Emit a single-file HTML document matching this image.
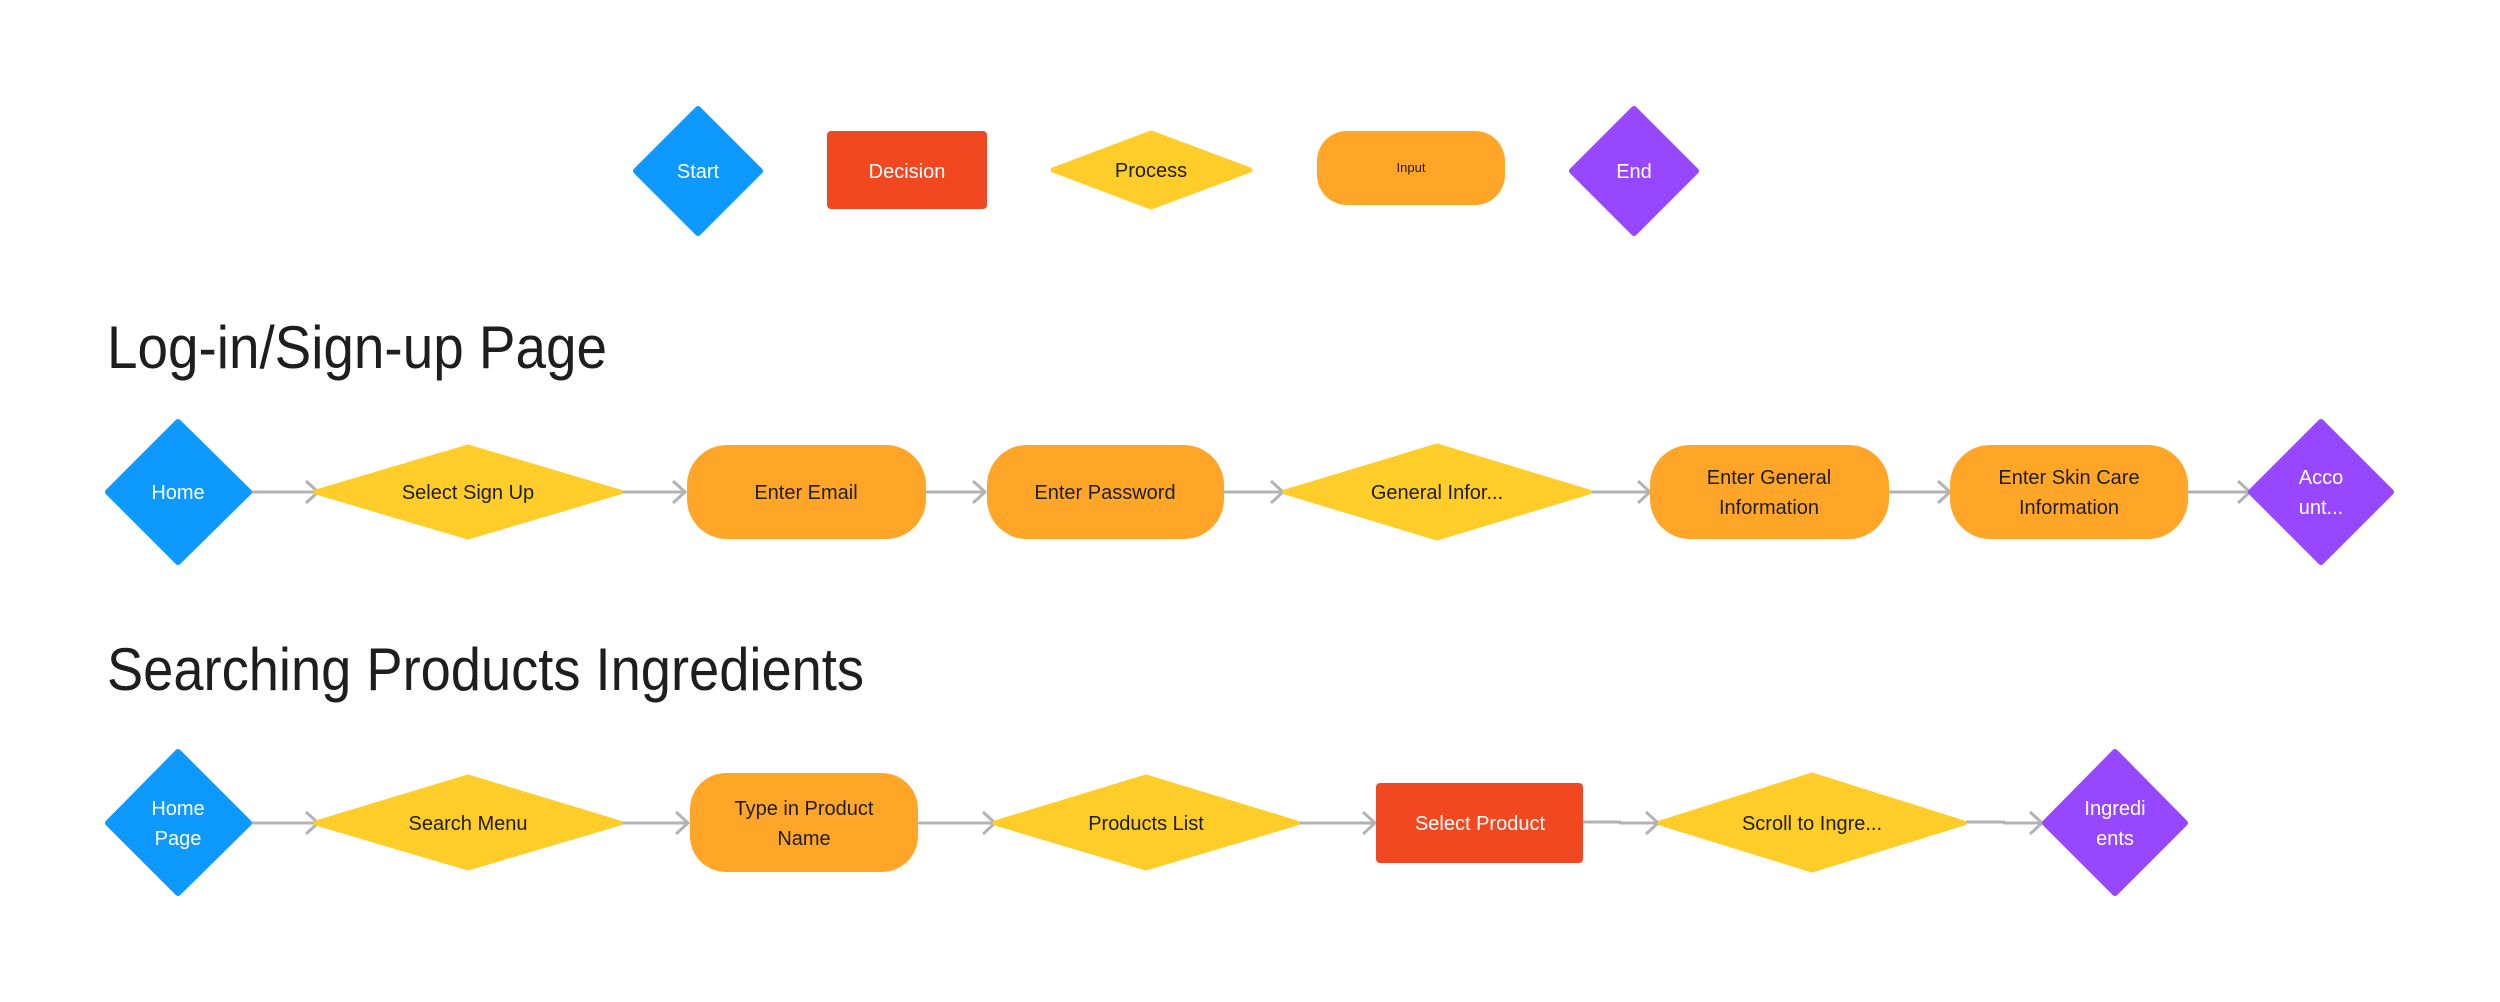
<!DOCTYPE html>
<html><head><meta charset="utf-8"><style>
html,body{margin:0;padding:0;background:#fff;}
svg{display:block}
text{font-family:"Liberation Sans",Arial,sans-serif;}
</style></head><body>
<svg width="2500" height="1002" viewBox="0 0 2500 1002" xmlns="http://www.w3.org/2000/svg">
<defs>
<marker id="ah" markerWidth="16" markerHeight="26" refX="14" refY="13" orient="auto" markerUnits="userSpaceOnUse">
<path d="M2,2 L14,13 L2,24" fill="none" stroke="#b3b3b3" stroke-width="3"/>
</marker>
</defs>
<g stroke-linejoin="round">
<!-- Legend -->
<polygon points="698,109 760,171 698,233 636,171" fill="#0d99ff" stroke="#0d99ff" stroke-width="6"/>
<text x="698" y="178" font-size="20" fill="#fff" text-anchor="middle">Start</text>
<rect x="827" y="131" width="160" height="78" rx="4" fill="#f24822"/>
<text x="907" y="178" font-size="20" fill="#fff" text-anchor="middle">Decision</text>
<polygon points="1151,133 1250,170 1151,207 1053,170" fill="#ffcd29" stroke="#ffcd29" stroke-width="5"/>
<text x="1151" y="177" font-size="20" fill="#1e1e1e" text-anchor="middle">Process</text>
<rect x="1317" y="131" width="188" height="74" rx="30" fill="#ffa629"/>
<text x="1411" y="172" font-size="13" fill="#1e1e1e" text-anchor="middle">Input</text>
<polygon points="1634,109 1696,171 1634,233 1572,171" fill="#9747ff" stroke="#9747ff" stroke-width="6"/>
<text x="1634" y="178" font-size="20" fill="#fff" text-anchor="middle">End</text>

<!-- Titles -->
<text x="107" y="368" font-size="60" fill="#1e1e1e" textLength="500" lengthAdjust="spacingAndGlyphs">Log-in/Sign-up Page</text>
<text x="107" y="690" font-size="60" fill="#1e1e1e" textLength="757" lengthAdjust="spacingAndGlyphs">Searching Products Ingredients</text>

<!-- Row 1 -->
<g stroke="#b3b3b3" stroke-width="3" fill="none">
<line x1="252" y1="492" x2="318" y2="492" marker-end="url(#ah)"/>
<line x1="622" y1="492" x2="685" y2="492" marker-end="url(#ah)"/>
<line x1="926" y1="492" x2="985" y2="492" marker-end="url(#ah)"/>
<line x1="1224" y1="492" x2="1283" y2="492" marker-end="url(#ah)"/>
<line x1="1591" y1="492" x2="1650" y2="492" marker-end="url(#ah)"/>
<line x1="1889" y1="492" x2="1950" y2="492" marker-end="url(#ah)"/>
<line x1="2188" y1="492" x2="2250" y2="492" marker-end="url(#ah)"/>
</g>
<polygon points="178,422 249,492 178,562 108,492" fill="#0d99ff" stroke="#0d99ff" stroke-width="6"/>
<text x="178" y="499" font-size="20" fill="#fff" text-anchor="middle">Home</text>
<polygon points="468,447 620,492 468,537 316,492" fill="#ffcd29" stroke="#ffcd29" stroke-width="5"/>
<text x="468" y="499" font-size="20" fill="#1e1e1e" text-anchor="middle">Select Sign Up</text>
<rect x="687" y="445" width="239" height="94" rx="40" fill="#ffa629"/>
<text x="806" y="499" font-size="20" fill="#1e1e1e" text-anchor="middle">Enter Email</text>
<rect x="987" y="445" width="237" height="94" rx="40" fill="#ffa629"/>
<text x="1105" y="499" font-size="20" fill="#1e1e1e" text-anchor="middle">Enter Password</text>
<polygon points="1437,446 1589,492 1437,538 1285,492" fill="#ffcd29" stroke="#ffcd29" stroke-width="5"/>
<text x="1437" y="499" font-size="20" fill="#1e1e1e" text-anchor="middle">General Infor...</text>
<rect x="1650" y="445" width="239" height="94" rx="40" fill="#ffa629"/>
<text x="1769" y="484" font-size="20" fill="#1e1e1e" text-anchor="middle">Enter General</text>
<text x="1769" y="514" font-size="20" fill="#1e1e1e" text-anchor="middle">Information</text>
<rect x="1950" y="445" width="238" height="94" rx="40" fill="#ffa629"/>
<text x="2069" y="484" font-size="20" fill="#1e1e1e" text-anchor="middle">Enter Skin Care</text>
<text x="2069" y="514" font-size="20" fill="#1e1e1e" text-anchor="middle">Information</text>
<polygon points="2321,422 2391,492 2321,562 2251,492" fill="#9747ff" stroke="#9747ff" stroke-width="6"/>
<text x="2321" y="484" font-size="20" fill="#fff" text-anchor="middle">Acco</text>
<text x="2321" y="514" font-size="20" fill="#fff" text-anchor="middle">unt...</text>

<!-- Row 2 -->
<g stroke="#b3b3b3" stroke-width="3" fill="none">
<line x1="252" y1="823" x2="318" y2="823" marker-end="url(#ah)"/>
<line x1="622" y1="823" x2="688" y2="823" marker-end="url(#ah)"/>
<line x1="918" y1="823" x2="995" y2="823" marker-end="url(#ah)"/>
<line x1="1299" y1="823" x2="1375" y2="823" marker-end="url(#ah)"/>
<polyline points="1583,822 1620,822 1620,823 1658,823" marker-end="url(#ah)"/>
<polyline points="1966,822 2004,822 2004,823 2042,823" marker-end="url(#ah)"/>
</g>
<polygon points="178,752 249,823 178,893 108,823" fill="#0d99ff" stroke="#0d99ff" stroke-width="6"/>
<text x="178" y="815" font-size="20" fill="#fff" text-anchor="middle">Home</text>
<text x="178" y="845" font-size="20" fill="#fff" text-anchor="middle">Page</text>
<polygon points="468,777 620,823 468,868 316,823" fill="#ffcd29" stroke="#ffcd29" stroke-width="5"/>
<text x="468" y="830" font-size="20" fill="#1e1e1e" text-anchor="middle">Search Menu</text>
<rect x="690" y="773" width="228" height="99" rx="36" fill="#ffa629"/>
<text x="804" y="815" font-size="20" fill="#1e1e1e" text-anchor="middle">Type in Product</text>
<text x="804" y="845" font-size="20" fill="#1e1e1e" text-anchor="middle">Name</text>
<polygon points="1146,777 1297,823 1146,868 995,823" fill="#ffcd29" stroke="#ffcd29" stroke-width="5"/>
<text x="1146" y="830" font-size="20" fill="#1e1e1e" text-anchor="middle">Products List</text>
<rect x="1376" y="783" width="207" height="80" rx="4" fill="#f24822"/>
<text x="1480" y="830" font-size="20" fill="#fff" text-anchor="middle">Select Product</text>
<polygon points="1812,775 1964,823 1812,870 1660,823" fill="#ffcd29" stroke="#ffcd29" stroke-width="5"/>
<text x="1812" y="830" font-size="20" fill="#1e1e1e" text-anchor="middle">Scroll to Ingre...</text>
<polygon points="2115,752 2185,823 2115,893 2045,823" fill="#9747ff" stroke="#9747ff" stroke-width="6"/>
<text x="2115" y="815" font-size="20" fill="#fff" text-anchor="middle">Ingredi</text>
<text x="2115" y="845" font-size="20" fill="#fff" text-anchor="middle">ents</text>
</g>
</svg>
</body></html>
